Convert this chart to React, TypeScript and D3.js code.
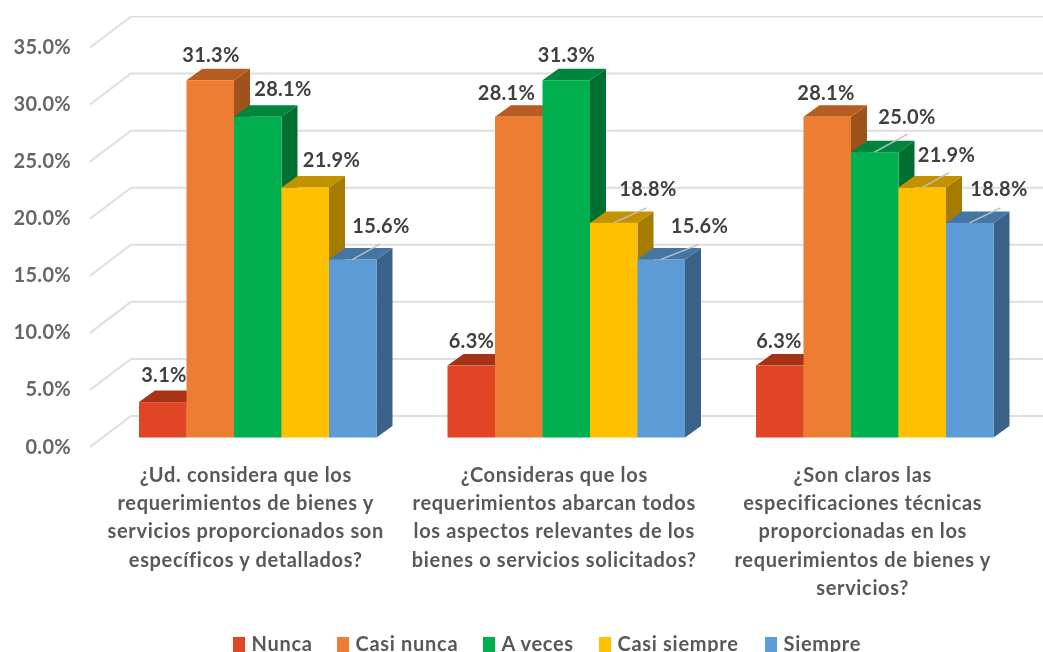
import * as d3 from "d3";

const width = 1043;
const height = 652;

const questions = [
  ["¿Ud. considera que los", "requerimientos de bienes y", "servicios proporcionados son", "específicos y detallados?"],
  ["¿Consideras que los", "requerimientos abarcan todos", "los aspectos relevantes de los", "bienes o servicios solicitados?"],
  ["¿Son claros las", "especificaciones técnicas", "proporcionadas en los", "requerimientos de bienes y", "servicios?"],
];
const seriesNames = ["Nunca", "Casi nunca", "A veces", "Casi siempre", "Siempre"];
const nunca = [3.1, 6.3, 6.3];
const casiNunca = [31.3, 28.1, 28.1];
const aVeces = [28.1, 31.3, 25.0];
const casiSiempre = [21.9, 18.8, 21.9];
const siempre = [15.6, 15.6, 18.8];
const seriesValues = [nunca, casiNunca, aVeces, casiSiempre, siempre];
const ticks = [0, 5, 10, 15, 20, 25, 30, 35];

const frontColors = ["#E04525", "#ED7D31", "#00B050", "#FFC000", "#5B9BD5"];
const topColors = ["#A83318", "#B55D22", "#00853C", "#C29200", "#4475A2"];
const sideColors = ["#8F2B14", "#9E521C", "#006F32", "#A67C00", "#3A6389"];

// label placement per group/series, relative to the bar's top-left corner
const labelDx = [
  [25, 24.5, 49, 50, 52],
  [24, 11.5, 24, 58, 62],
  [23, 22.5, 56, 48, 53],
];
const labelDy = [
  [-20, -18, -21, -20.5, -26],
  [-18, -17, -18, -27, -26],
  [-18, -17, -28, -25.5, -26.5],
];
// leader lines only show on some labels: group, series, end offset
const leaders = [
  { g: 0, s: 4, dx: 27, dy: -15 },
  { g: 1, s: 3, dx: 33, dy: -15 },
  { g: 1, s: 4, dx: 38, dy: -15 },
  { g: 2, s: 2, dx: 33, dy: -18 },
  { g: 2, s: 3, dx: 27, dy: -15 },
  { g: 2, s: 4, dx: 31, dy: -15 },
];

const y = d3.scaleLinear().domain([0, 35]).range([437.5, 38]);
const x0 = d3.scaleBand<number>().domain([0, 1, 2]).range([139, 1064.5]);
const x1 = d3.scaleBand<number>().domain([0, 1, 2, 3, 4]).range([0, 237.5]);
const barW = x1.bandwidth();
const depthX = 16;
const depthY = 11.5;
const font = "Lato, 'Noto Sans', sans-serif";
const legendX = [233, 337, 483, 599, 765];

function barX(g: number, s: number) {
  return (x0(g) ?? 0) + (x1(s) ?? 0);
}

export default function App() {
  return (
    <svg
      width={width}
      height={height}
      viewBox={`0 0 ${width} ${height}`}
      style={{ position: "absolute", left: 0, top: 0, background: "#fff" }}
    >
      <defs>
        <filter id="soft" x="0" y="0" width="100%" height="100%">
          <feGaussianBlur stdDeviation="0.55" />
        </filter>
      </defs>
      <g filter="url(#soft)">
        {/* gridlines with the floor / wall kink */}
        {ticks.map((t) => (
          <path
            key={t}
            d={`M90,${y(t) + 9.5} L131,${y(t) - 21.5} H1043`}
            fill="none"
            stroke="#DEDEDE"
            strokeWidth={2}
          />
        ))}
        {ticks.map((t) => (
          <text
            key={t}
            x={71}
            y={y(t) + 16}
            textAnchor="end"
            fontFamily={font}
            fontWeight={700}
            fontSize={20}
            letterSpacing={0.3}
            fill="#666"
          >
            {t.toFixed(1)}%
          </text>
        ))}

        {[0, 1, 2].map((g) => (
          <g key={g}>
            {seriesValues.map((vals, s) => {
              const bx = barX(g, s);
              const top = y(vals[g]);
              const base = y(0);
              return (
                <g key={s}>
                  <path
                    d={`M${bx + barW},${top} l${depthX},${-depthY} V${base - depthY} l${-depthX},${depthY} Z`}
                    fill={sideColors[s]}
                  />
                  <path
                    d={`M${bx},${top} l${depthX},${-depthY} h${barW} l${-depthX},${depthY} Z`}
                    fill={topColors[s]}
                  />
                  <rect x={bx} y={top} width={barW} height={base - top} fill={frontColors[s]} />
                </g>
              );
            })}
          </g>
        ))}

        {leaders.map(({ g, s, dx, dy }) => {
          const bx = barX(g, s) + 23.5;
          const top = y(seriesValues[s][g]);
          return (
            <path
              key={`${g}-${s}`}
              d={`M${bx},${top} l${dx},${dy}`}
              stroke="#BFBFBF"
              strokeWidth={1.4}
              fill="none"
            />
          );
        })}

        {[0, 1, 2].map((g) =>
          seriesValues.map((vals, s) => (
            <text
              key={`${g}-${s}`}
              x={barX(g, s) + labelDx[g][s]}
              y={y(vals[g]) + labelDy[g][s]}
              textAnchor="middle"
              fontFamily={font}
              fontWeight={700}
              fontSize={20}
              letterSpacing={0.3}
              fill="#404040"
            >
              {vals[g].toFixed(1)}%
            </text>
          )),
        )}

        {questions.map((lines, g) =>
          lines.map((line, i) => (
            <text
              key={`${g}-${i}`}
              x={barX(g, 2) + barW / 2 - 12}
              y={482 + i * 28.2}
              textAnchor="middle"
              fontFamily={font}
              fontWeight={700}
              fontSize={20}
              letterSpacing={0.65}
              fill="#595959"
            >
              {line}
            </text>
          )),
        )}

        {seriesNames.map((name, s) => (
          <g key={name}>
            <rect x={legendX[s]} y={637} width={12} height={15} fill={frontColors[s]} />
            <text
              x={legendX[s] + 18.5}
              y={651}
              fontFamily={font}
              fontWeight={700}
              fontSize={20}
              letterSpacing={0.7}
              fill="#595959"
            >
              {name}
            </text>
          </g>
        ))}
      </g>
    </svg>
  );
}
